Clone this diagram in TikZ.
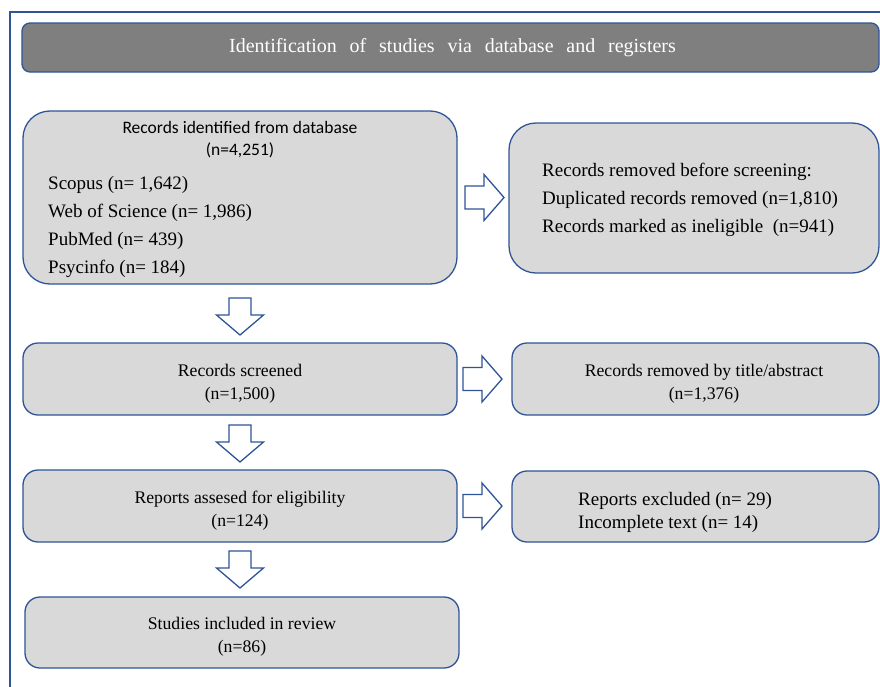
\documentclass[tikz,border=0pt]{standalone}
\usepackage{fontspec}
\setmainfont{Liberation Serif}
\newfontfamily\calibrifont{Carlito}
\usetikzlibrary{calc}
\definecolor{bordblue}{HTML}{2F5597}
\definecolor{boxgray}{HTML}{D9D9D9}
\definecolor{headgray}{HTML}{7F7F7F}
\newcommand\blkright[2]{%
  \begin{scope}[shift={($(#1.east)+(#2,0)$)}]
    \draw[blockarrow] (0,-11.5) -- (19,-11.5) -- (19,-23) -- (39,0) -- (19,23) -- (19,11.5) -- (0,11.5) -- cycle;
  \end{scope}}
\newcommand\blkdown[2]{%
  \begin{scope}[shift={($(#1.south)+(0,#2)$)}]
    \draw[blockarrow] (-11,0) -- (11,0) -- (11,17) -- (23.5,17) -- (0,37) -- (-23.5,17) -- (-11,17) -- cycle;
  \end{scope}}
\newcommand\wsp{\hspace{12.8pt}}
\tikzset{
  frameline/.style={draw=bordblue, line width=1.4pt},
  box/.style={draw=bordblue, fill=boxgray, line width=1.3pt, inner sep=0pt, outer sep=0pt, rectangle},
  headbox/.style={draw=bordblue, fill=headgray, line width=1.3pt, inner sep=0pt, outer sep=0pt, rectangle, rounded corners=8pt},
  blockarrow/.style={draw=bordblue, fill=white, line width=1.3pt, line join=miter},
  ctext/.style={align=center, inner sep=0pt, font=\fontsize{17.7}{23}\selectfont},
  ltext/.style={align=left, inner sep=0pt, anchor=west},
}
\begin{document}
\begin{tikzpicture}[x=1pt, y=-1pt]
\useasboundingbox (0,0) rectangle (880,686);
\fill[white] (0,0) rectangle (880,686);
\draw[frameline] (10,690) -- (10,12) -- (884,12);

\node[headbox, minimum width=857pt, minimum height=49pt] (head) at (450.5,47.5) {};
\node[inner sep=0pt, text=white, font=\fontsize{20}{24}\selectfont] (headt) at (452.5,48) {Identification\wsp of\wsp studies\wsp via\wsp database\wsp and\wsp registers};

\node[box, rounded corners=27pt, minimum width=434pt, minimum height=173pt] (b1) at (240,197.5) {};
\node[ctext, font=\calibrifont\fontsize{17.5}{22}\selectfont] (b1t) at (240,140) {Records identified from database\\(n=4,251)};
\node[ltext, font=\fontsize{19}{28.3}\selectfont] (b1l) at (48,227) {Scopus (n= 1,642)\\Web of Science (n= 1,986)\\PubMed (n= 439)\\Psycinfo (n= 184)};

\node[box, rounded corners=27pt, minimum width=370pt, minimum height=150pt] (b2) at (694,198) {};
\node[ltext, font=\fontsize{19}{28}\selectfont] (b2t) at (542,199.5) {Records removed before screening:\\Duplicated records removed (n=1,810)\\Records marked as ineligible\ \ (n=941)};

\node[box, rounded corners=15pt, minimum width=434pt, minimum height=72pt] (b3) at (240,379) {};
\node[ctext] (b3t) at (240,383.5) {Records screened\\(n=1,500)};

\node[box, rounded corners=15pt, minimum width=367pt, minimum height=72pt] (b4) at (695.5,379) {};
\node[ctext] (b4t) at (704,383.5) {Records removed by title/abstract\\(n=1,376)};

\node[box, rounded corners=15pt, minimum width=434pt, minimum height=72pt] (b5) at (240,506) {};
\node[ctext] (b5t) at (240,510.5) {Reports assesed for eligibility\\(n=124)};

\node[box, rounded corners=15pt, minimum width=367pt, minimum height=71pt] (b6) at (695.5,506.5) {};
\node[ltext, font=\fontsize{19}{23}\selectfont] (b6t) at (578,512) {Reports excluded (n= 29)\\Incomplete text (n= 14)};

\node[box, rounded corners=15pt, minimum width=434pt, minimum height=71pt] (b7) at (242,632.5) {};
\node[ctext] (b7t) at (242,636.5) {Studies included in review\\(n=86)};

\blkright{b1}{8}
\blkright{b3}{6}
\blkright{b5}{6}
\blkdown{b1}{14}
\blkdown{b3}{10}
\blkdown{b5}{9}
\end{tikzpicture}
\end{document}
